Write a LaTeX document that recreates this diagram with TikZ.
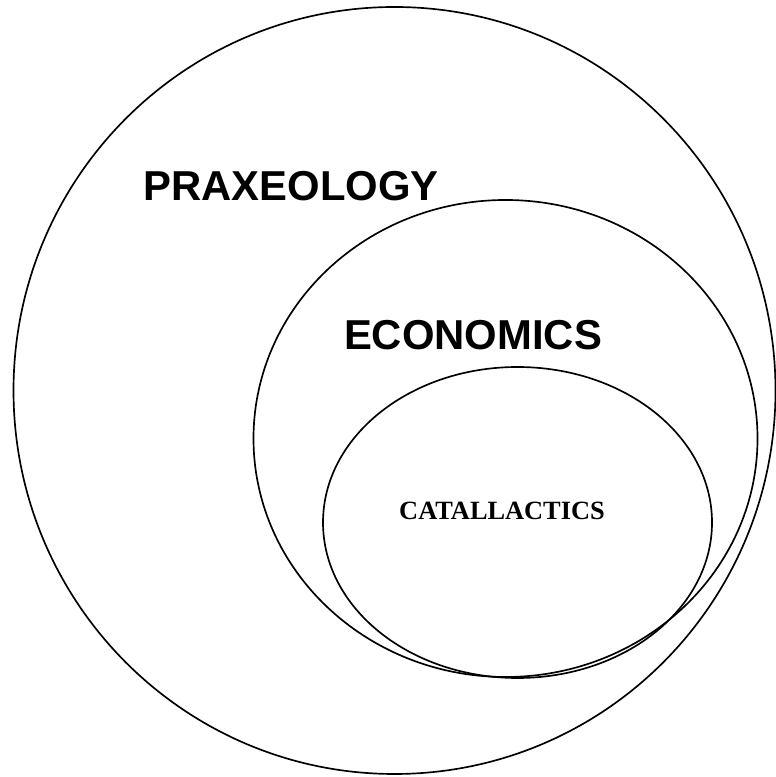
\documentclass[tikz,border=0pt]{standalone}
\usepackage{fontspec}
\setmainfont{Liberation Serif}
\newfontfamily\headfont{Liberation Sans}
\usepackage{tikz}
\usetikzlibrary{positioning}

\begin{document}
\begin{tikzpicture}[line width=0.95pt,
  setlabel/.style={font=\headfont\fontsize{23.8}{28}\selectfont\bfseries,inner sep=0pt,anchor=base},
  sublabel/.style={font=\fontsize{15}{18}\selectfont\bfseries,inner sep=0pt,anchor=base}]
  \useasboundingbox (0,0) rectangle (15.5,15.54);
  \draw (7.89,7.73) ellipse[x radius=7.62,y radius=7.67];
  \draw (10.11,6.77) ellipse[x radius=5.04,y radius=4.77];
  \draw (10.35,5.09) ellipse[x radius=3.89,y radius=3.11];
  \node[setlabel] (praxeology) at (5.82,11.52) {PRAXEOLOGY};
  \node[setlabel] (economics) at (9.46,8.54) {ECONOMICS};
  \node[sublabel] (catallactics) at (10.04,5.15) {CATALLACTICS};
\end{tikzpicture}
\end{document}
